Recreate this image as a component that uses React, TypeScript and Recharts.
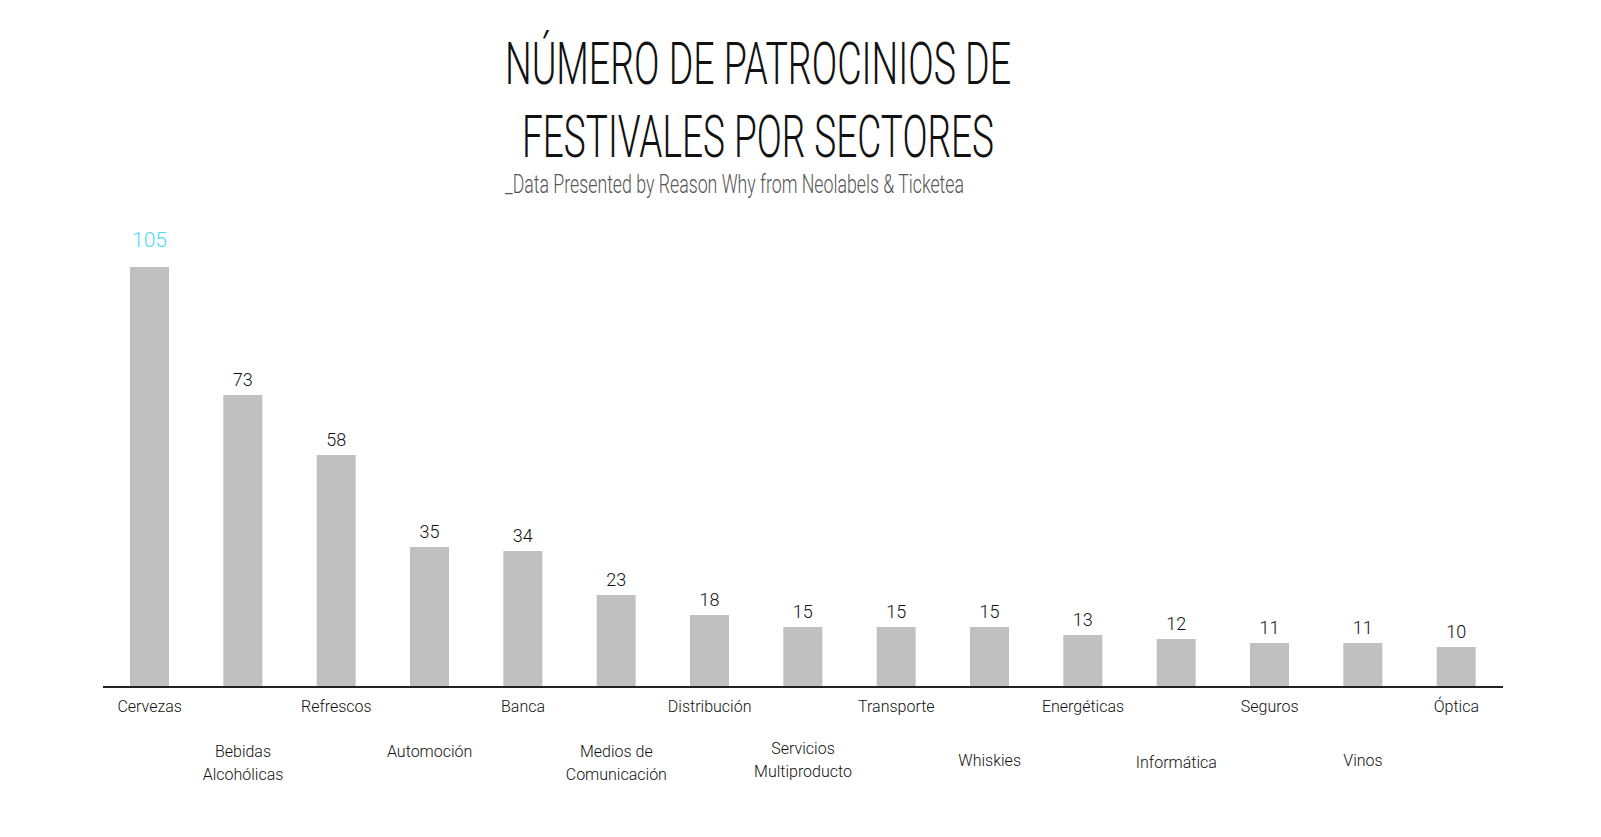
import { BarChart, Bar, XAxis, YAxis, LabelList } from 'recharts';

// Sponsorships per sector
const sectors = [
    'Cervezas', 'Bebidas Alcohólicas', 'Refrescos', 'Automoción', 'Banca',
    'Medios de Comunicación', 'Distribución', 'Servicios Multiproducto', 'Transporte', 'Whiskies',
    'Energéticas', 'Informática', 'Seguros', 'Vinos', 'Óptica',
];
const sponsorships = [105, 73, 58, 35, 34, 23, 18, 15, 15, 15, 13, 12, 11, 11, 10];
const tickLines = [
    ['Cervezas'], ['Bebidas', 'Alcohólicas'], ['Refrescos'], ['Automoción'], ['Banca'],
    ['Medios de', 'Comunicación'], ['Distribución'], ['Servicios', 'Multiproducto'], ['Transporte'], ['Whiskies'],
    ['Energéticas'], ['Informática'], ['Seguros'], ['Vinos'], ['Óptica'],
];

const data = sectors.map((name, i) => ({ name, value: sponsorships[i] }));

// vertical centre of the first tick line (labels alternate between two rows)
const tickTop = [706, 751, 706, 751, 706, 751, 706, 748, 706, 760, 706, 762, 706, 760, 706];

const labelFont = 'Roboto, "Liberation Sans", sans-serif';
const titleFont = 'Roboto, "Liberation Sans Narrow", sans-serif';

function SectorTick(props: any) {
    const { x, payload } = props;
    const i = payload.index;
    const lines = tickLines[i];
    return (
        <g>
            {lines.map((line, k) => (
                <text
                    key={k}
                    x={x}
                    y={tickTop[i] + k * 23}
                    textAnchor="middle"
                    dominantBaseline="central"
                    fontFamily={labelFont}
                    fontWeight={300}
                    fontSize={16}
                    fill="#111"
                >
                    {line}
                </text>
            ))}
        </g>
    );
}

function ValueLabel(props: any) {
    const { x, y, width, value, index } = props;
    const first = index === 0;
    return (
        <text
            x={x + width / 2}
            y={first ? y - 27 : y - 16}
            textAnchor="middle"
            dominantBaseline="central"
            fontFamily={labelFont}
            fontWeight={300}
            fontSize={first ? 21 : 18}
            fill={first ? '#4dd7f7' : '#111'}
        >
            {value}
        </text>
    );
}

export default function App() {
    return (
        <div style={{ position: 'fixed', left: 0, top: 0, width: 1601, height: 837, background: '#fff', overflow: 'hidden' }}>
            <svg width={1601} height={230} style={{ position: 'absolute', left: 0, top: 0 }}>
                <text x={505} y={84} textLength={506} lengthAdjust="spacingAndGlyphs"
                    fontFamily={titleFont} fontWeight={300} fontSize={59} fill="#111">
                    NÚMERO DE PATROCINIOS DE
                </text>
                <text x={522} y={157} textLength={472} lengthAdjust="spacingAndGlyphs"
                    fontFamily={titleFont} fontWeight={300} fontSize={59} fill="#111">
                    FESTIVALES POR SECTORES
                </text>
                <text x={505} y={193} textLength={459} lengthAdjust="spacingAndGlyphs"
                    fontFamily={titleFont} fontWeight={300} fontSize={26} fill="#555">
                    _Data Presented by Reason Why from Neolabels &amp; Ticketea
                </text>
            </svg>
            <div style={{ position: 'absolute', left: 0, top: 0 }}>
                <BarChart width={1601} height={837} data={data}
                    margin={{ top: 267, right: 98, left: 103, bottom: 0 }}>
                    <XAxis
                        dataKey="name"
                        interval={0}
                        height={150}
                        tickLine={false}
                        axisLine={{ stroke: '#222', strokeWidth: 2 }}
                        tick={<SectorTick />}
                    />
                    <YAxis hide domain={[0, 105]} />
                    <Bar dataKey="value" fill="#c0c0c0" barSize={39} isAnimationActive={false}>
                        <LabelList dataKey="value" content={<ValueLabel />} />
                    </Bar>
                </BarChart>
            </div>
        </div>
    );
}
